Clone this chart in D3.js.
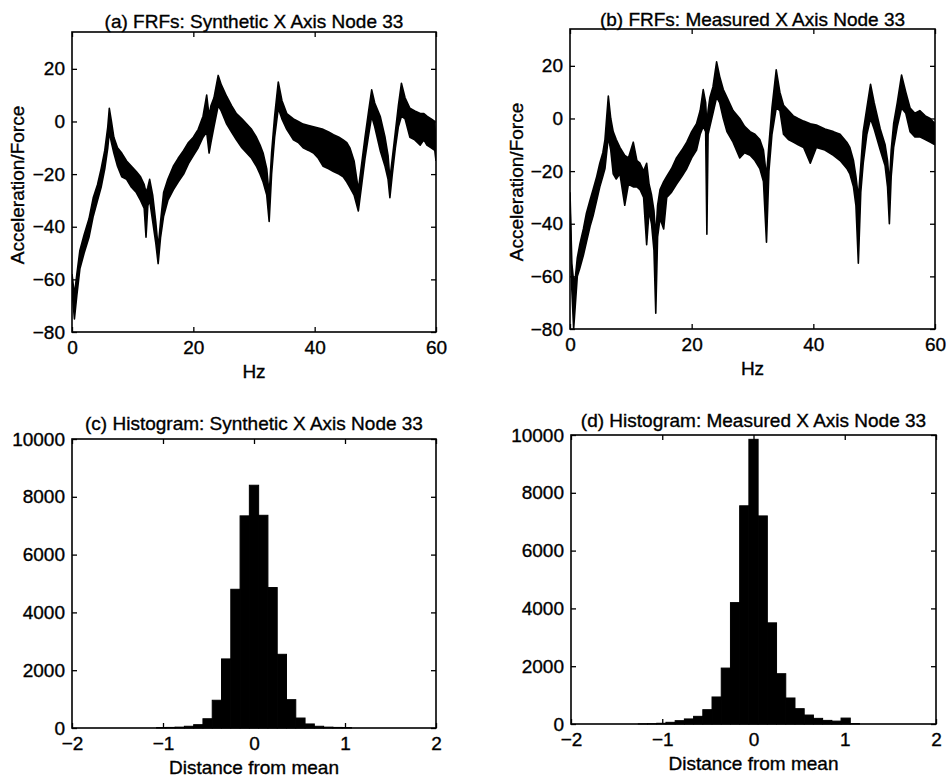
<!DOCTYPE html>
<html>
<head>
<meta charset="utf-8">
<script src="https://cdn.jsdelivr.net/npm/d3@7"></script>
<style>
  html, body { margin: 0; padding: 0; background: #fff; }
  svg { display: block; }
  text { font-family: "Liberation Sans", Arial, Helvetica, sans-serif; fill: #000; stroke: #000; stroke-width: 0.35px; }
</style>
</head>
<body>
<svg id="chart" width="947" height="780"></svg>
<script>
// ---------- Data ----------
// (a) Synthetic FRF: upper / lower envelope of the noisy trace (dB)
const hzA = [0, 0.4, 0.8, 1.3, 2.0, 2.8, 3.5, 4.2, 4.8, 5.4, 5.9, 6.15, 6.5, 6.9, 7.5, 8.2, 9.0, 9.8, 10.6, 11.3, 11.9, 12.2, 12.5, 12.8, 13.3, 13.8, 14.2, 14.6, 15.1, 15.8, 16.7, 17.5, 18.4, 19.2, 20.0, 20.8, 21.6, 22.2, 22.6, 22.9, 23.4, 24.1, 24.6, 25.5, 26.3, 27.1, 28.0, 28.8, 29.6, 30.4, 31.0, 31.5, 32.1, 32.5, 32.9, 33.4, 34.0, 34.6, 35.4, 36.5, 37.3, 38.1, 39.0, 39.8, 40.6, 41.4, 42.3, 43.1, 44.0, 44.7, 45.3, 45.8, 46.5, 47.2, 47.7, 48.3, 48.9, 49.4, 49.9, 50.8, 51.6, 52.1, 52.4, 52.8, 53.3, 53.8, 54.3, 54.9, 55.7, 56.5, 57.4, 58.0, 58.5, 59.2, 59.8, 60];
const upperA = [-58, -66, -58, -49, -43, -37, -29, -24, -18, -11, -2, 5, 0, -6, -10, -12, -15, -17, -19, -21, -24, -27, -25, -22, -28, -38, -48, -38, -27, -22, -17, -14, -11, -8, -6, -3, 2, 10, 2, 6, 9, 17.5, 14, 9.5, 6, 3, 1, -1, -3, -6, -9, -12, -18, -28, -12, 2, 15, 8, 3, 1, 0, -1, -1.5, -2, -2.5, -3, -4, -5, -6, -7, -8, -10, -15, -26, -17, -6, 4, 12, 7, 2, -6, -13, -22, -14, -4, 6, 14.5, 9, 5, 4, 3, 3, 2, 1, 0, -10];
const lowerA = [-64, -75, -66, -56, -50, -44, -36, -30, -25, -18, -10, -4, -8, -12, -17, -21, -22, -25, -27, -30, -33, -44, -32, -30, -38, -46, -54, -44, -36, -30, -26, -23, -20, -16, -13, -10, -6, -4, -12, -8, -2, 6, 4, -1, -4, -7, -10, -12, -14, -17, -20, -23, -28, -38, -20, -6, 5, 1, -3, -7, -8, -10, -11, -12, -14, -17, -18, -19, -20, -21, -23, -25, -28, -34, -25, -14, -5, 2, -2, -11, -17, -22, -29, -20, -10, -2, 2, 1, -6, -7, -9, -7, -9, -10, -11, -15];

// (b) Measured FRF
const hzB = [0, 0.3, 0.6, 0.9, 1.2, 1.6, 2.2, 2.7, 3.3, 3.8, 4.4, 4.9, 5.4, 5.75, 6.3, 6.7, 7.1, 7.6, 8.2, 9.0, 9.6, 10.4, 11.0, 11.5, 12.1, 12.6, 13.0, 13.4, 13.8, 14.1, 14.4, 14.8, 15.4, 15.9, 16.7, 17.5, 18.4, 19.2, 20.0, 20.8, 21.4, 21.9, 22.3, 22.5, 22.7, 23.0, 23.5, 24.1, 24.6, 25.2, 25.8, 26.8, 27.9, 28.7, 29.6, 30.4, 31.2, 31.8, 32.3, 32.7, 33.2, 33.9, 34.5, 35.1, 35.9, 36.7, 37.5, 38.4, 39.5, 40.5, 41.9, 43.3, 44.4, 45.5, 46.0, 46.6, 47.0, 47.4, 47.8, 48.2, 48.8, 49.4, 50.0, 51.0, 51.8, 52.2, 52.5, 52.8, 53.2, 53.8, 54.5, 55.2, 55.9, 56.7, 57.5, 58.4, 59.2, 60];
const upperB = [-28, -55, -62, -60, -53, -48, -42, -36, -31, -27, -22, -17, -13, -8, 8.5, 0, -5, -8, -11, -14, -15, -9, -16, -17, -20, -17, -25, -29, -35, -45, -33, -27, -24, -22, -19, -15, -12, -9, -5, -2, 3, 11, 6, -3, 3, 8, 12, 21.5, 16, 11, 8, 3, 0, -3, -5, -6, -8, -12, -22, -10, 4, 18.5, 10, 5, 3, 1, 0, -1, -2, -2.5, -4, -5, -6, -9, -11, -16, -22, -30, -18, -5, 4, 13, 6, -4, -10, -16, -25, -12, -2, 6, 16.5, 10, 4, 2, 3, 1, 0, -2];
const lowerB = [-32, -65, -80, -70, -60, -57, -52, -47, -41, -37, -31, -26, -22, -19, -7, -12, -21, -23, -21, -33, -25, -26, -26, -27, -30, -48, -35, -40, -50, -74, -45, -38, -42, -30, -28, -25, -22, -19, -15, -12, -6, -3, -5, -44, -6, -3, 2, 8, 6, 0, -5, -9, -15, -13, -14, -16, -19, -24, -47, -20, -6, 4, 3, -6, -8, -9, -10, -11, -17, -11, -12, -14, -16, -19, -21, -26, -33, -55, -28, -17, -6, 0, -4, -12, -18, -26, -40, -22, -11, -3, 4, 2, -5, -7, -7, -8, -9, -10];

// (c) Histogram, synthetic: bin centres and counts
const binWidthC = 0.102;
const centersC = [-1.02, -0.918, -0.816, -0.714, -0.612, -0.51, -0.408, -0.306, -0.204, -0.102, 0, 0.102, 0.204, 0.306, 0.408, 0.51, 0.612, 0.714, 0.816, 0.918, 1.02];
const countsC  = [15, 20, 30, 60, 115, 320, 960, 2390, 4800, 7340, 8400, 7360, 4860, 2550, 980, 345, 140, 60, 30, 20, 15];

// (d) Histogram, measured
const binWidthD = 0.101;
const centersD = [-1.212, -1.111, -1.01, -0.909, -0.808, -0.707, -0.606, -0.505, -0.404, -0.303, -0.202, -0.101, 0, 0.101, 0.202, 0.303, 0.404, 0.505, 0.606, 0.707, 0.808, 0.909, 1.01, 1.111];
const countsD  = [5, 10, 25, 58, 115, 175, 265, 495, 935, 1935, 4200, 7550, 9850, 7200, 3500, 1740, 900, 530, 310, 195, 125, 100, 205, 15];

// Tick values
const frfXTicks = [0, 20, 40, 60];
const frfYTicks = [-80, -60, -40, -20, 0, 20];
const histXTicks = [-2, -1, 0, 1, 2];
const histYTicks = [0, 2000, 4000, 6000, 8000, 10000];

// Titles / labels
const titles = [
  "(a) FRFs: Synthetic X Axis Node 33",
  "(b) FRFs: Measured X Axis Node 33",
  "(c) Histogram: Synthetic X Axis Node 33",
  "(d) Histogram: Measured X Axis Node 33"
];

// ---------- Drawing ----------
const svg = d3.select("#chart");
const FS = 19;

function drawAxesBox(g, x, y, xTicks, yTicks, fmtY) {
  const [x0, x1] = x.range();
  const [y0, y1] = y.range(); // y0 bottom, y1 top
  const tl = 5;
  const bottom = g.append("g").attr("transform", `translate(0,${y0})`)
    .call(d3.axisBottom(x).tickValues(xTicks).tickSizeInner(-tl).tickSizeOuter(0).tickPadding(9)
      .tickFormat(d => d < 0 ? "\u2212" + Math.abs(d) : d));
  const top = g.append("g").attr("transform", `translate(0,${y1})`)
    .call(d3.axisTop(x).tickValues(xTicks).tickSizeInner(-tl).tickSizeOuter(0).tickFormat(""));
  const left = g.append("g").attr("transform", `translate(${x0},0)`)
    .call(d3.axisLeft(y).tickValues(yTicks).tickSizeInner(-tl).tickSizeOuter(0).tickPadding(7)
      .tickFormat(fmtY));
  const right = g.append("g").attr("transform", `translate(${x1},0)`)
    .call(d3.axisRight(y).tickValues(yTicks).tickSizeInner(-tl).tickSizeOuter(0).tickFormat(""));
  [bottom, top, left, right].forEach(a => {
    a.select(".domain").remove();
    a.selectAll("line").attr("stroke", "#000").attr("stroke-width", 1.3);
    a.selectAll("text").attr("font-size", FS).attr("font-family", null).attr("fill", "#000");
  });
  g.append("rect")
    .attr("x", x0).attr("y", y1)
    .attr("width", x1 - x0).attr("height", y0 - y1)
    .attr("fill", "none").attr("stroke", "#000").attr("stroke-width", 1.6);
}

const fmtNum = d => d < 0 ? "\u2212" + Math.abs(d) : String(d);

function drawFRF(cfg) {
  const g = svg.append("g");
  const x = d3.scaleLinear().domain([0, 60]).range([cfg.x0, cfg.x1]);
  const y = d3.scaleLinear().domain([-80, 34]).range([cfg.y0, cfg.y1]);
  const pts = cfg.hz.map((h, i) => ({ h, u: cfg.up[i], l: cfg.lo[i] }));
  const clipId = "clip" + cfg.id;
  svg.append("clipPath").attr("id", clipId).append("rect")
    .attr("x", cfg.x0).attr("y", cfg.y1).attr("width", cfg.x1 - cfg.x0).attr("height", cfg.y0 - cfg.y1);
  const area = d3.area().x(d => x(d.h)).y0(d => y(d.l)).y1(d => y(d.u));
  const lineU = d3.line().x(d => x(d.h)).y(d => y(d.u));
  const lineL = d3.line().x(d => x(d.h)).y(d => y(d.l));
  const pg = g.append("g").attr("clip-path", `url(#${clipId})`);
  pg.append("path").datum(pts).attr("d", area).attr("fill", "#000");
  pg.append("path").datum(pts).attr("d", lineU).attr("fill", "none").attr("stroke", "#000").attr("stroke-width", 1.6).attr("stroke-linejoin", "round");
  pg.append("path").datum(pts).attr("d", lineL).attr("fill", "none").attr("stroke", "#000").attr("stroke-width", 1.6).attr("stroke-linejoin", "round");
  drawAxesBox(g, x, y, frfXTicks, frfYTicks, fmtNum);
  g.append("text").attr("x", (cfg.x0 + cfg.x1) / 2).attr("y", cfg.titleY)
    .attr("text-anchor", "middle").attr("font-size", FS).text(cfg.title);
  g.append("text").attr("x", (cfg.x0 + cfg.x1) / 2).attr("y", cfg.y0 + 46)
    .attr("text-anchor", "middle").attr("font-size", FS).text("Hz");
  g.append("text").attr("transform", `translate(${cfg.ylabX},${(cfg.y0 + cfg.y1) / 2 + 3}) rotate(-90)`)
    .attr("text-anchor", "middle").attr("font-size", FS).text("Acceleration/Force");
}

function drawHist(cfg) {
  const g = svg.append("g");
  const x = d3.scaleLinear().domain([-2, 2]).range([cfg.x0, cfg.x1]);
  const y = d3.scaleLinear().domain([0, 10000]).range([cfg.y0, cfg.y1]);
  const data = cfg.centers.map((c, i) => ({ c, n: cfg.counts[i] }));
  g.append("g").selectAll("rect").data(data).join("rect")
    .attr("x", d => x(d.c - cfg.bw / 2))
    .attr("width", d => x(d.c + cfg.bw / 2) - x(d.c - cfg.bw / 2))
    .attr("y", d => y(d.n))
    .attr("height", d => y(0) - y(d.n))
    .attr("fill", "#000").attr("stroke", "#000").attr("stroke-width", 1);
  drawAxesBox(g, x, y, histXTicks, histYTicks, d => String(d));
  g.append("text").attr("x", (cfg.x0 + cfg.x1) / 2).attr("y", cfg.titleY)
    .attr("text-anchor", "middle").attr("font-size", FS).text(cfg.title);
  g.append("text").attr("x", (cfg.x0 + cfg.x1) / 2).attr("y", cfg.y0 + 46)
    .attr("text-anchor", "middle").attr("font-size", FS).text("Distance from mean");
}

drawFRF({ id: "a", hz: hzA, up: upperA, lo: lowerA, x0: 72, x1: 436, y0: 332, y1: 32, titleY: 28, ylabX: 24, title: titles[0] });
drawFRF({ id: "b", hz: hzB, up: upperB, lo: lowerB, x0: 570, x1: 935, y0: 329, y1: 29, titleY: 26, ylabX: 523, title: titles[1] });
drawHist({ centers: centersC, counts: countsC, bw: binWidthC, x0: 72, x1: 436, y0: 728, y1: 439, titleY: 430, title: titles[2] });
drawHist({ centers: centersD, counts: countsD, bw: binWidthD, x0: 571, x1: 936, y0: 724, y1: 435, titleY: 427, title: titles[3] });
</script>
</body>
</html>
